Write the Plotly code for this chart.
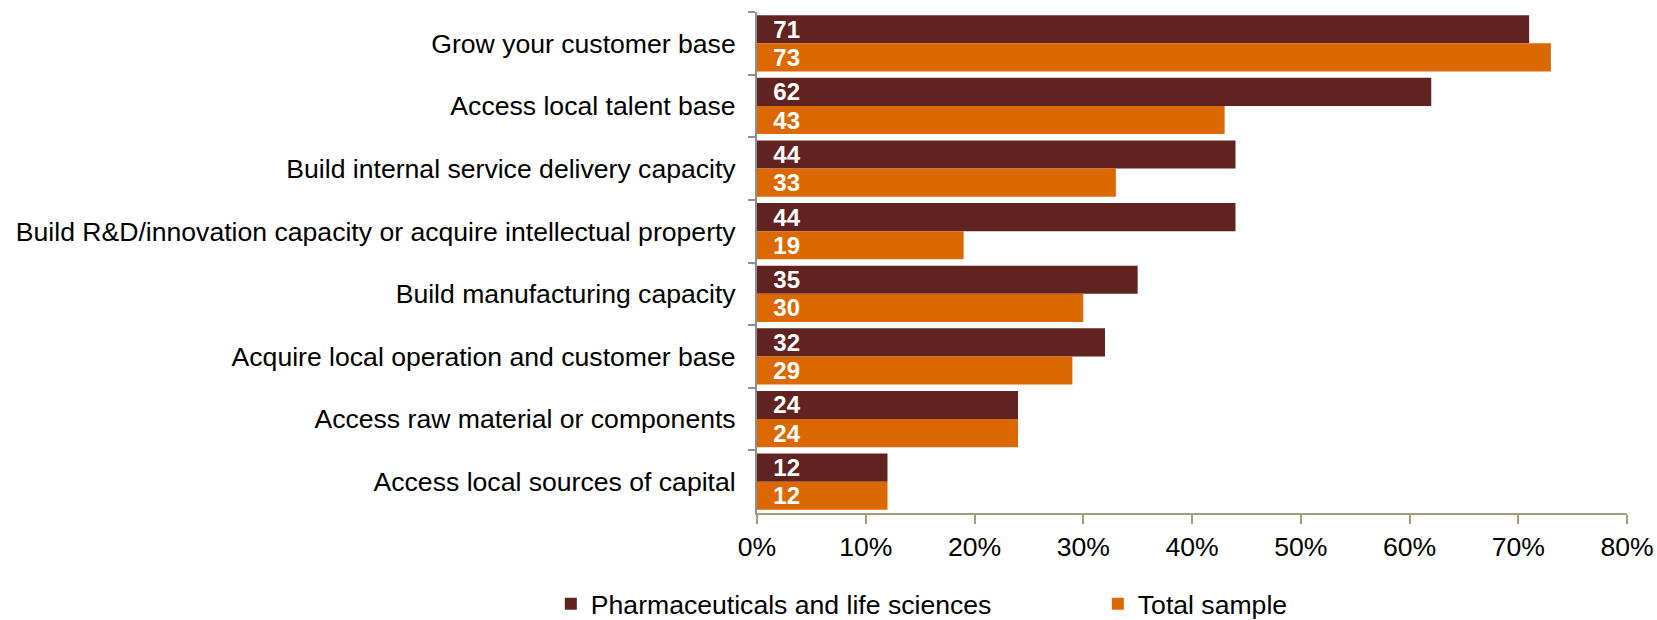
import plotly.graph_objects as go

# Survey: reasons for investing, share of respondents (%)
categories = [
    "Grow your customer base",
    "Access local talent base",
    "Build internal service delivery capacity",
    "Build R&D/innovation capacity or acquire intellectual property",
    "Build manufacturing capacity",
    "Acquire local operation and customer base",
    "Access raw material or components",
    "Access local sources of capital",
]
pharma = [71, 62, 44, 44, 35, 32, 24, 12]
total = [73, 43, 33, 19, 30, 29, 24, 12]
series_names = ["Pharmaceuticals and life sciences", "Total sample"]
x_ticks = [0, 10, 20, 30, 40, 50, 60, 70, 80]

DARK = "#602320"
ORANGE = "#DC6900"
FONT = "Liberation Sans, Arial, sans-serif"

fig = go.Figure()
for name, vals, color, lw in [(series_names[0], pharma, DARK, 502),
                              (series_names[1], total, ORANGE, 160)]:
    fig.add_trace(go.Bar(
        y=categories,
        x=vals,
        name=name,
        orientation="h",
        marker=dict(color=color, line=dict(width=0)),
        text=[str(v) for v in vals],
        texttemplate="\u00a0\u00a0%{text}",
        textposition="inside",
        insidetextanchor="start",
        constraintext="none",
        textangle=0,
        insidetextfont=dict(family=FONT, size=24, color="white", weight="bold"),
        cliponaxis=False,
        legendwidth=lw,
        hoverinfo="skip",
    ))

fig.update_layout(
    width=1657,
    height=620,
    margin=dict(l=757, r=30, t=12, b=107, autoexpand=False),
    barmode="group",
    bargap=0.1,
    bargroupgap=0,
    plot_bgcolor="white",
    paper_bgcolor="white",
    font=dict(family=FONT, size=26.6, color="black"),
    showlegend=True,
    legend=dict(
        orientation="h",
        x=-0.237,
        xanchor="left",
        y=-0.1816,
        yanchor="middle",
        font=dict(family=FONT, size=26.6, color="black"),
        itemwidth=30,
        traceorder="normal",
        bgcolor="rgba(0,0,0,0)",
    ),
)

fig.update_xaxes(
    range=[0, 80],
    tickvals=x_ticks,
    ticktext=[f"{v}%" for v in x_ticks],
    showgrid=False,
    zeroline=False,
    showline=True,
    linecolor="#A39C80",
    linewidth=2,
    ticks="outside",
    ticklen=9,
    tickwidth=2,
    tickcolor="#A39C80",
    tickfont=dict(family=FONT, size=26.6, color="black"),
    ticklabelstandoff=0,
)

fig.update_yaxes(
    categoryorder="array",
    categoryarray=categories,
    autorange="reversed",
    showgrid=False,
    zeroline=False,
    showline=True,
    linecolor="#8E8E8E",
    linewidth=2,
    ticks="outside",
    tickson="boundaries",
    ticklen=7,
    tickwidth=2,
    tickcolor="#8E8E8E",
    tickfont=dict(family=FONT, size=26.6, color="black"),
    ticklabelstandoff=14,
)

fig.write_html("out.html")
